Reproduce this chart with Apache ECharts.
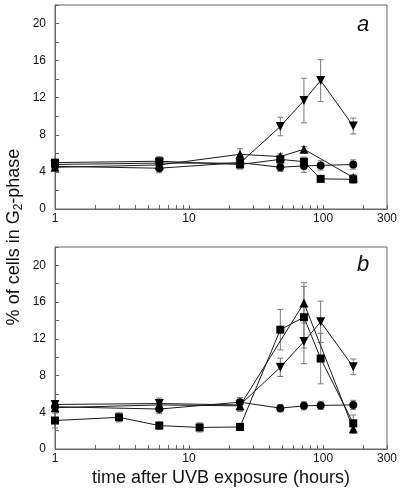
<!DOCTYPE html>
<html><head><meta charset="utf-8">
<script src="https://cdn.jsdelivr.net/npm/echarts@6/dist/echarts.min.js"></script>
<style>html,body{margin:0;padding:0;background:#fff}#c{width:400px;height:493px}</style>
</head><body><div id="c"></div>
<script>
// ---- data ----
const hoursA = [1, 6, 24, 48, 72, 96, 168];
const hoursB = [1, 3, 6, 12, 24, 48, 72, 96, 168];
const xLabels = [1, 10, 100, 300];
const xTicks = [1,2,3,4,5,6,7,8,9,10,20,30,40,50,60,70,80,90,100,200,300];
const yLabels = [0, 4, 8, 12, 16, 20];

// panel a
const circleA    = [4.6, 4.4, 5.0, 4.5, 4.65, 4.7, 4.8];
const circleAErr = [0.3, 0.5, 0.4, 0.45, 0.7, 0.5, 0.5];
const squareA    = [5.0, 5.15, 4.8, 5.35, 5.1, 3.25, 3.2];
const squareAErr = [0.3, 0.5, 0.5, 0.4, 0.5, 0.35, 0.4];
const upA        = [4.5, 4.75, 5.9, 5.65, 6.45, null, 3.4];
const upAErr     = [0.3, 0.3, 0.6, 0.3, 0.3, null, 0.3];
const downA      = [4.8, 4.95, 4.95, 8.9, 11.7, 13.85, 8.95];
const downAErr   = [0.3, 0.3, 0.4, 1.0, 2.4, 2.25, 0.85];

// panel b
const circleB    = [4.6, null, 4.35, null, 5.1, 4.45, 4.7, 4.75, 4.8];
const circleBErr = [0.3, null, 0.5, null, 0.5, 0.4, 0.45, 0.45, 0.5];
const squareB    = [3.1, 3.45, 2.55, 2.35, 2.4, 13.0, 14.35, 9.85, 2.8];
const squareBErr = [0.8, 0.5, 0.4, 0.5, 0.4, 2.2, 3.35, 2.75, 0.9];
const upB        = [4.5, null, 4.8, null, 4.7, null, 15.9, null, 2.2];
const upBErr     = [0.3, null, 0.3, null, 0.6, null, 2.2, null, 0.5];
const downB      = [4.85, null, 4.95, null, 4.8, 8.9, 11.7, 13.85, 8.95];
const downBErr   = [0.3, null, 0.6, null, 0.6, 1.0, 2.4, 2.25, 0.85];

// ---- chart ----
const FONT = "'Liberation Sans', Arial, Helvetica, sans-serif";
const chart = echarts.init(document.getElementById('c'), null, {renderer: 'canvas'});

function pairs(xs, ys) {
  return xs.map((x, i) => ys[i] == null ? null : [x, ys[i]]).filter(Boolean);
}
function errPairs(xs, ys, es) {
  return xs.map((x, i) => ys[i] == null ? null : [x, ys[i] - es[i], ys[i] + es[i]]).filter(Boolean);
}
function errSeries(idx, data) {
  return {
    type: 'custom', xAxisIndex: idx, yAxisIndex: idx, data: data, z: 1, silent: true,
    encode: {x: 0, y: [1, 2]},
    renderItem: function (params, api) {
      const x = api.value(0);
      const lo = api.coord([x, api.value(1)]);
      const hi = api.coord([x, api.value(2)]);
      const w = 3;
      const st = {stroke: '#7a7a7a', lineWidth: 1};
      return {type: 'group', children: [
        {type: 'line', shape: {x1: lo[0], y1: lo[1], x2: hi[0], y2: hi[1]}, style: st},
        {type: 'line', shape: {x1: lo[0] - w, y1: lo[1], x2: lo[0] + w, y2: lo[1]}, style: st},
        {type: 'line', shape: {x1: hi[0] - w, y1: hi[1], x2: hi[0] + w, y2: hi[1]}, style: st}
      ]};
    }
  };
}
function lineSeries(idx, data, symbol, size, rot) {
  return {
    type: 'line', xAxisIndex: idx, yAxisIndex: idx, data: data,
    symbol: symbol, symbolSize: size, symbolRotate: rot || 0, showAllSymbol: true,
    lineStyle: {color: '#1a1a1a', width: 1}, itemStyle: {color: '#000'},
    z: 3, silent: true
  };
}
function xAxis(idx, withName) {
  const ax = {
    type: 'log', logBase: 10, min: 1, max: 300, gridIndex: idx,
    axisLine: {lineStyle: {color: '#666', width: 1}},
    axisTick: {inside: true, length: 4, customValues: xTicks, lineStyle: {color: '#666'}},
    axisLabel: {customValues: xLabels, color: '#111', fontSize: 12, margin: 4, fontFamily: FONT},
    splitLine: {show: false}, minorTick: {show: false}
  };
  if (withName) {
    ax.name = 'time after UVB exposure (hours)';
    ax.nameLocation = 'middle';
    ax.nameGap = 20;
    ax.nameTextStyle = {fontSize: 18, color: '#111', fontFamily: FONT, verticalAlign: 'top'};
  }
  return ax;
}
function yAxis(idx) {
  return {
    type: 'value', min: 0, max: 22, interval: 2, gridIndex: idx,
    axisLine: {show: true, lineStyle: {color: '#666', width: 1}},
    axisTick: {show: true, inside: true, length: 4, lineStyle: {color: '#666'}},
    axisLabel: {customValues: yLabels, color: '#111', fontSize: 12, margin: 9, fontFamily: FONT},
    splitLine: {show: false}
  };
}

const series = [
  errSeries(0, errPairs(hoursA, circleA, circleAErr)),
  errSeries(0, errPairs(hoursA, squareA, squareAErr)),
  errSeries(0, errPairs(hoursA, upA, upAErr)),
  errSeries(0, errPairs(hoursA, downA, downAErr)),
  lineSeries(0, pairs(hoursA, circleA), 'circle', 8),
  lineSeries(0, pairs(hoursA, squareA), 'rect', 8),
  lineSeries(0, pairs(hoursA, upA), 'triangle', 9),
  lineSeries(0, pairs(hoursA, downA), 'triangle', 9, 180),
  errSeries(1, errPairs(hoursB, circleB, circleBErr)),
  errSeries(1, errPairs(hoursB, squareB, squareBErr)),
  errSeries(1, errPairs(hoursB, upB, upBErr)),
  errSeries(1, errPairs(hoursB, downB, downBErr)),
  lineSeries(1, pairs(hoursB, circleB), 'circle', 8),
  lineSeries(1, pairs(hoursB, squareB), 'rect', 8),
  lineSeries(1, pairs(hoursB, upB), 'triangle', 9),
  lineSeries(1, pairs(hoursB, downB), 'triangle', 9, 180)
];

chart.setOption({
  animation: false,
  backgroundColor: '#fff',
  textStyle: {fontFamily: FONT},
  grid: [
    {left: 55, right: 12, top: 5, height: 204, show: true, borderColor: '#666', borderWidth: 1, backgroundColor: 'transparent'},
    {left: 55, right: 12, top: 247, height: 202, show: true, borderColor: '#666', borderWidth: 1, backgroundColor: 'transparent'}
  ],
  xAxis: [xAxis(0, false), xAxis(1, true)],
  yAxis: [yAxis(0), yAxis(1)],
  series: series,
  graphic: [
    {type: 'text', x: 14, y: 237, rotation: Math.PI / 2,
     style: {text: '{n|% of cells in G}{s|2}{n|-phase}', align: 'center', verticalAlign: 'middle',
       rich: {n: {fontSize: 18, fontFamily: FONT, fill: '#111', lineHeight: 22, verticalAlign: 'middle'},
              s: {fontSize: 12, fontFamily: FONT, fill: '#111', lineHeight: 22, verticalAlign: 'bottom', padding: [8, 0, 0, 0]}}}},
    {type: 'text', x: 363, y: 25, style: {text: 'a', font: 'italic 22px ' + FONT, fill: '#111', align: 'center', verticalAlign: 'middle'}},
    {type: 'text', x: 363, y: 265, style: {text: 'b', font: 'italic 22px ' + FONT, fill: '#111', align: 'center', verticalAlign: 'middle'}}
  ]
});
</script></body></html>
